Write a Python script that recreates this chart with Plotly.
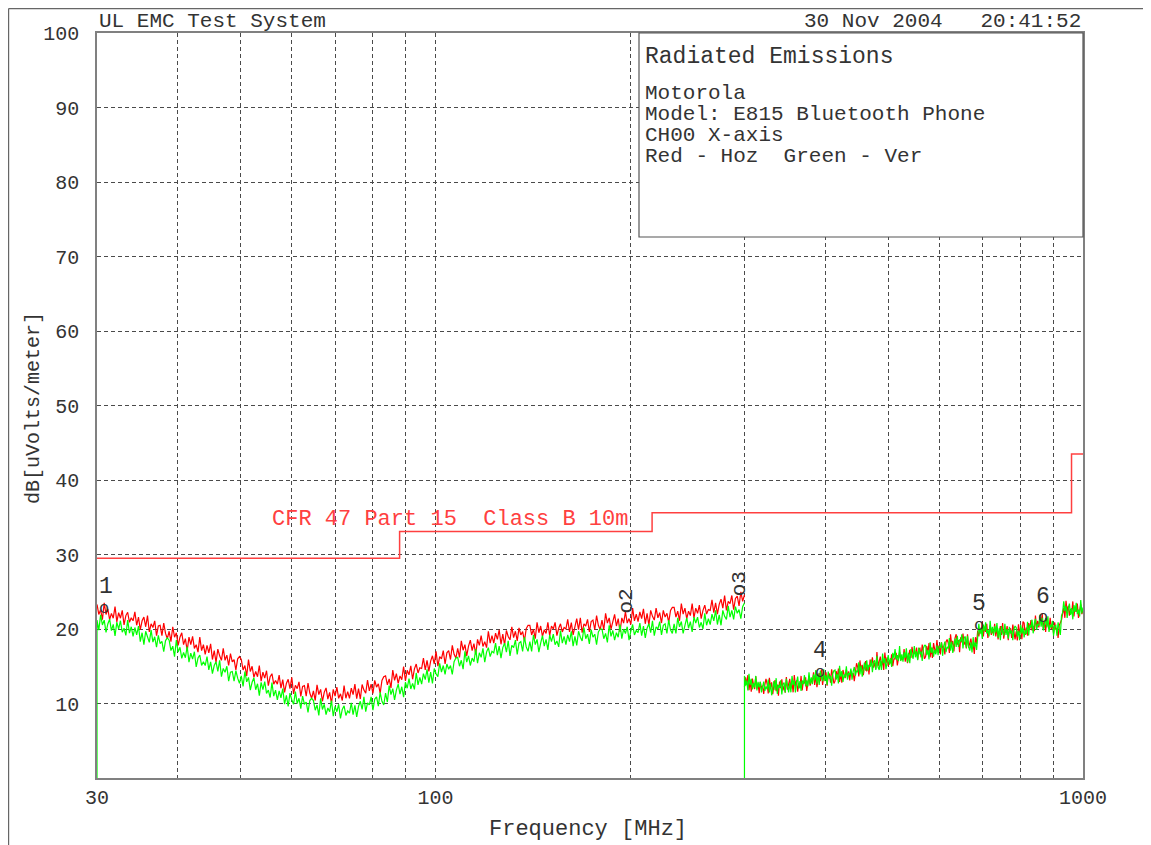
import numpy as np
import plotly.graph_objects as go

# ---------------- data ----------------
band1_start, band1_stop = 30, 300      # first sweep (MHz)
band2_start, band2_stop = 300, 1000    # second sweep (MHz)

red_band1 = [
    23.3, 21.95, 22.6, 21.25, 23.5, 21.95, 22.7, 21.25, 22.1, 21.45, 23.0, 20.95, 22.2, 21.45, 22.5, 20.55, 21.8, 22.25, 20.9, 21.5,
    21.1, 22.3, 20.5, 21.6, 19.9, 21.1, 21.6, 20.3, 21.8, 19.6, 20.7, 20.2, 21.1, 19.1, 20.4, 20.5, 19.1, 20.8, 19.4, 18.7,
    19.7, 18.3, 20.3, 18.9, 19.5, 17.8, 18.9, 19.5, 17.9, 18.7, 17.1, 18.9, 17.9, 19.0, 17.4, 17.9, 16.9, 18.9, 17.1, 17.9,
    16.6, 17.8, 16.8, 18.0, 15.9, 17.1, 15.5, 17.3, 16.4, 15.8, 17.4, 15.8, 16.5, 15.1, 16.7, 15.6, 15.9, 14.5, 16.0, 16.3,
    15.9, 14.5, 15.1, 13.7, 15.9, 14.3, 15.0, 13.5, 14.3, 13.6, 15.1, 13.0, 14.2, 13.4, 14.4, 12.4, 13.6, 14.0, 12.6, 13.1,
    12.6, 13.8, 12.05, 13.2, 11.5, 12.7, 13.25, 12.0, 13.5, 11.3, 12.45, 12.0, 12.9, 10.95, 12.3, 12.4, 11.0, 12.75, 11.4, 10.7,
    11.7, 10.4, 12.5, 11.2, 11.9, 10.3, 11.5, 12.1, 10.6, 11.5, 10.0, 11.9, 11.0, 12.2, 10.7, 11.3, 10.4, 12.4, 10.7, 11.6,
    10.7, 12.05, 11.2, 12.6, 10.65, 12.0, 10.6, 12.55, 11.8, 11.4, 13.15, 11.7, 12.6, 11.35, 13.1, 12.2, 12.65, 11.4, 13.1, 13.6,
    13.7, 12.5, 13.3, 12.1, 14.5, 13.1, 14.0, 12.7, 13.7, 13.2, 14.95, 13.05, 14.45, 13.85, 15.05, 13.25, 14.65, 15.3, 14.1, 14.8,
    14.7, 16.1, 14.5, 15.8, 14.3, 15.7, 16.4, 15.3, 17.0, 15.0, 16.3, 16.0, 17.1, 15.3, 16.8, 17.1, 15.9, 17.8, 16.6, 16.1,
    17.4, 16.2, 18.4, 17.15, 17.9, 16.4, 17.7, 18.5, 17.1, 18.05, 16.6, 18.6, 17.8, 19.1, 17.65, 18.3, 17.5, 19.7, 18.1, 19.1,
    18.1, 19.45, 18.6, 19.9, 17.95, 19.3, 17.85, 19.8, 19.0, 18.55, 20.3, 18.85, 19.7, 18.4, 20.15, 19.2, 19.65, 18.4, 20.05, 20.5,
    20.5, 19.2, 19.96, 18.7, 20.9, 19.5, 20.4, 19.0, 19.9, 19.4, 20.9, 19.1, 20.4, 20.0, 20.9, 19.1, 20.1, 20.7, 19.6, 20.2,
    20.0, 21.3, 19.6, 20.86, 19.2, 20.4, 21.4, 19.9, 21.5, 19.5, 20.7, 20.4, 21.3, 19.6, 21.0, 21.2, 19.9, 21.8, 20.5, 19.9,
    21.2, 19.9, 22.1, 20.8, 21.5, 19.98, 21.0, 21.96, 20.4, 21.4, 19.6, 21.5, 20.8, 22.3, 20.8, 21.4, 20.6, 22.8, 21.1, 22.0,
    21.0, 22.3, 21.4, 22.7, 20.7, 22.1, 20.5, 22.5, 21.7, 21.2, 22.8, 21.5, 22.2, 20.8, 22.5, 21.6, 22.1, 20.9, 22.5, 22.9,
    22.9, 21.6, 22.4, 21.1, 23.4, 22.0, 22.8, 21.4, 22.4, 21.8, 23.4, 21.5, 22.8, 22.1, 23.2, 21.4, 22.5, 23.2, 22.0, 22.6,
    22.5, 23.9, 22.2, 23.5, 22.0, 23.3, 24.0, 22.8, 24.5, 22.5, 23.7, 23.4, 24.5, 22.6, 24.1, 24.4, 23.1, 25.0, 23.7, 24.6,
]

green_band1 = [
    21.2, 19.85, 21.9, 20.54, 21.19, 19.54, 20.68, 21.33, 19.78, 20.63, 19.07, 20.92, 19.97, 21.11, 19.56, 20.1, 19.15, 21.2, 19.45, 20.3,
    19.0, 20.2, 19.2, 20.4, 18.3, 19.5, 17.9, 19.7, 18.8, 18.2, 19.85, 18.25, 18.95, 17.55, 19.15, 18.05, 18.35, 16.95, 18.45, 18.8,
    18.5, 17.1, 17.7, 16.3, 18.5, 16.9, 17.55, 16.05, 16.85, 16.15, 17.65, 15.55, 16.75, 15.95, 16.95, 14.9, 16.1, 16.5, 15.1, 15.6,
    15.1, 16.3, 14.5, 15.6, 14.0, 15.1, 15.6, 14.3, 15.8, 13.6, 14.7, 14.2, 15.0, 13.0, 14.2, 14.3, 13.0, 14.4, 13.4, 12.7,
    13.7, 12.3, 14.3, 12.9, 13.5, 11.8, 12.85, 13.45, 11.85, 12.65, 11.05, 12.85, 11.85, 12.95, 11.35, 11.8, 10.8, 12.8, 11.0, 11.8,
    10.5, 11.7, 10.75, 12.0, 9.9, 11.1, 9.6, 11.4, 10.5, 9.9, 11.6, 10.0, 10.7, 9.3, 11.0, 9.9, 10.2, 8.8, 10.4, 10.7,
    10.4, 9.1, 9.8, 8.4, 10.7, 9.2, 9.9, 8.5, 9.4, 8.9, 10.4, 8.3, 9.6, 8.9, 9.9, 8.0, 9.2, 9.7, 8.4, 9.0,
    8.7, 10.1, 8.5, 9.75, 8.2, 9.6, 10.3, 9.2, 10.9, 8.9, 10.1, 9.8, 10.9, 9.1, 10.6, 10.9, 9.65, 11.5, 10.3, 9.8,
    11.4, 10.2, 12.4, 11.2, 12.0, 10.5, 11.8, 12.6, 11.25, 12.25, 10.85, 12.85, 12.05, 13.35, 11.95, 12.7, 11.9, 14.1, 12.5, 13.5,
    12.6, 14.0, 13.2, 14.6, 12.8, 14.2, 12.7, 14.7, 14.0, 13.6, 15.4, 14.2, 15.1, 13.9, 15.3, 14.6, 15.1, 13.9, 15.6, 16.1,
    16.2, 15.0, 15.8, 14.6, 17.0, 15.55, 16.4, 15.1, 16.1, 15.6, 17.3, 15.4, 16.8, 16.2, 17.4, 15.55, 16.9, 17.5, 16.3, 17.0,
    16.8, 18.1, 16.5, 17.7, 16.1, 17.5, 18.1, 16.9, 18.4, 16.4, 17.8, 17.5, 18.5, 16.6, 18.1, 18.3, 17.0, 18.9, 17.6, 17.0,
    18.3, 17.0, 19.2, 17.9, 18.6, 16.9, 18.1, 19.1, 17.7, 18.6, 17.2, 19.2, 18.3, 19.3, 17.9, 18.4, 17.6, 19.8, 18.1, 19.0,
    17.9, 19.2, 18.3, 19.7, 17.7, 19.0, 17.8, 19.7, 18.9, 18.4, 20.2, 18.7, 19.3, 18.0, 19.9, 18.9, 19.3, 17.9, 19.6, 20.0,
    20.0, 18.7, 19.4, 18.2, 20.5, 19.0, 19.8, 18.5, 19.5, 18.9, 20.6, 18.7, 20.0, 19.4, 20.3, 18.5, 19.7, 20.6, 19.2, 19.8,
    19.5, 20.8, 19.1, 20.4, 18.8, 20.1, 20.7, 19.5, 21.1, 19.1, 20.3, 20.0, 21.0, 19.2, 20.5, 20.7, 19.4, 21.2, 19.9, 19.4,
    20.7, 19.4, 21.5, 20.3, 21.0, 19.4, 20.5, 21.5, 20.1, 21.0, 19.6, 21.6, 20.8, 21.6, 20.2, 20.9, 20.0, 22.1, 20.5, 21.4,
    20.6, 22.0, 21.1, 22.5, 20.6, 21.9, 20.5, 22.5, 21.7, 21.3, 23.1, 21.6, 22.5, 21.3, 23.0, 22.1, 22.6, 21.4, 23.0, 23.5,
]

red_band2 = [
    12.2, 13.5, 12.55, 13.8, 11.8, 13.0, 11.6, 13.35, 12.5, 11.95, 13.65, 12.0, 12.7, 11.4, 12.9, 12.0, 12.4, 11.3, 12.5, 13.3,
    12.65, 11.35, 13.45, 12.15, 12.85, 11.25, 12.45, 13.15, 11.65, 12.55, 11.05, 12.95, 12.05, 13.25, 11.75, 12.35, 11.45, 13.55, 11.85, 12.75,
    13.3, 12.0, 12.76, 11.5, 13.82, 12.35, 13.1, 11.6, 12.65, 12.1, 13.7, 11.75, 13.0, 12.7, 13.5, 11.7, 13.1, 13.7, 12.4, 13.0,
    12.9, 14.2, 12.5, 13.8, 12.2, 13.5, 14.1, 13.0, 14.6, 12.5, 13.7, 13.3, 14.2, 12.4, 13.8, 14.0, 12.8, 14.6, 13.3, 12.7,
    13.0, 14.34, 13.48, 14.7, 12.9, 14.0, 12.8, 14.5, 13.9, 13.4, 14.6, 13.5, 14.3, 13.1, 14.4, 13.7, 14.1, 13.0, 14.2, 15.4,
    14.9, 13.64, 15.78, 14.5, 15.2, 13.8, 15.0, 15.7, 14.3, 15.2, 13.9, 15.9, 15.1, 16.2, 14.8, 15.5, 14.6, 16.9, 15.0, 15.8,
    16.3, 15.04, 15.8, 14.5, 16.85, 15.4, 16.2, 15.0, 15.8, 15.4, 16.6, 15.0, 16.0, 16.0, 16.8, 15.1, 16.2, 16.9, 15.8, 16.1,
    15.9, 17.3, 15.6, 16.9, 15.4, 16.7, 17.2, 16.1, 17.6, 16.5, 16.9, 16.6, 17.5, 15.9, 17.3, 17.4, 16.2, 17.9, 16.6, 16.0,
    16.3, 17.7, 16.8, 18.1, 16.2, 17.5, 16.1, 18.1, 17.3, 16.8, 18.5, 17.0, 17.8, 16.6, 18.2, 17.4, 17.7, 16.6, 18.3, 18.6,
    18.1, 16.8, 19.3, 17.9, 18.4, 17.0, 18.8, 19.3, 17.9, 18.5, 16.9, 18.9, 18.2, 19.4, 17.9, 18.3, 17.4, 19.3, 17.5, 18.4,
    18.7, 17.35, 18.0, 16.65, 18.9, 18.0, 19.8, 19.0, 20.0, 19.4, 21.0, 19.0, 20.3, 19.6, 20.7, 18.8, 20.0, 20.5, 19.2, 19.8,
    19.4, 20.7, 19.0, 20.2, 18.6, 19.8, 20.4, 19.2, 20.8, 18.7, 19.8, 19.5, 20.4, 18.5, 19.9, 20.1, 18.8, 20.6, 19.2, 18.6,
    19.7, 18.47, 20.64, 19.5, 20.2, 18.64, 21.0, 20.8, 19.2, 20.2, 19.1, 20.8, 20.0, 21.2, 19.8, 20.4, 19.7, 21.8, 20.1, 21.1,
    20.2, 21.6, 20.8, 22.0, 20.0, 21.1, 19.6, 21.4, 20.5, 20.0, 21.5, 20.0, 20.7, 19.4, 20.9, 19.9, 20.1, 18.8, 20.5, 21.0,
    21.2, 22.1, 22.8, 21.5, 23.8, 22.3, 23.1, 21.8, 22.7, 22.1, 23.7, 21.7, 23.0, 22.3, 23.4, 21.5, 22.8, 23.3, 22.0, 22.6,
]

green_band2 = [
    13.7, 12.4, 13.1, 11.75, 14.0, 12.5, 13.3, 11.9, 12.75, 12.15, 13.7, 11.75, 12.9, 12.15, 12.9, 11.5, 12.45, 12.95, 11.7, 12.3,
    11.9, 13.2, 11.5, 12.7, 11.1, 12.4, 13.0, 11.8, 13.4, 11.3, 12.5, 12.1, 13.1, 11.2, 12.6, 12.8, 11.5, 13.3, 12.1, 11.5,
    12.8, 11.5, 13.7, 12.5, 13.1, 11.5, 12.8, 13.6, 12.0, 13.0, 11.7, 13.1, 12.6, 13.8, 12.3, 13.1, 12.3, 14.2, 12.6, 13.5,
    12.6, 13.9, 13.1, 14.5, 12.6, 14.0, 12.5, 14.4, 13.5, 13.0, 14.6, 13.0, 13.8, 12.5, 14.3, 13.3, 13.7, 12.4, 14.0, 14.4,
    14.5, 13.2, 13.98, 12.7, 15.07, 13.6, 14.35, 12.9, 13.9, 13.5, 15.0, 13.2, 14.1, 13.85, 14.7, 13.2, 14.3, 14.9, 13.75, 14.4,
    14.2, 15.54, 13.9, 15.1, 13.6, 14.9, 15.5, 14.4, 15.8, 14.4, 15.2, 14.9, 15.9, 14.2, 15.6, 15.8, 14.5, 16.4, 14.9, 14.5,
    15.8, 14.5, 16.7, 15.4, 16.1, 14.6, 15.8, 16.5, 15.2, 16.1, 14.9, 16.8, 16.1, 17.3, 15.9, 16.5, 15.7, 17.7, 15.7, 16.6,
    15.6, 16.9, 16.1, 17.4, 15.5, 16.8, 15.4, 17.3, 16.5, 16.0, 17.7, 16.2, 17.0, 15.8, 17.5, 16.6, 17.0, 15.7, 17.4, 17.8,
    17.8, 16.5, 17.2, 15.9, 18.2, 16.8, 17.5, 16.3, 17.2, 16.6, 17.8, 16.5, 17.7, 17.5, 18.2, 16.4, 17.7, 18.3, 16.9, 17.6,
    17.4, 18.8, 17.1, 18.3, 16.8, 18.1, 18.7, 17.6, 19.1, 17.6, 18.6, 18.3, 19.3, 17.4, 18.8, 19.0, 17.5, 19.1, 17.6, 17.1,
    18.2, 16.85, 18.9, 17.55, 18.2, 17.2, 19.4, 20.7, 19.3, 20.2, 18.7, 20.6, 19.7, 20.9, 19.4, 19.9, 19.0, 21.1, 19.4, 20.3,
    19.1, 20.4, 19.5, 20.8, 18.8, 20.1, 18.5, 20.4, 19.6, 19.1, 20.7, 19.2, 20.0, 18.7, 20.3, 19.4, 19.8, 18.5, 20.0, 20.4,
    20.2, 18.97, 19.74, 18.5, 20.57, 19.37, 20.2, 18.88, 19.84, 19.31, 20.98, 19.15, 20.52, 20.18, 21.25, 19.42, 20.79, 21.36, 19.92, 20.6,
    20.5, 21.9, 20.3, 21.5, 19.8, 21.0, 21.5, 20.2, 21.7, 19.6, 20.6, 20.2, 21.1, 19.1, 20.4, 20.5, 19.1, 20.9, 19.7, 19.2,
    21.8, 22.2, 23.7, 22.4, 23.1, 21.5, 22.7, 23.4, 21.9, 22.8, 21.3, 23.2, 22.3, 23.5, 22.0, 22.6, 21.7, 23.9, 22.1, 22.9,
]
green_floor_level = 0.0   # the green trace rises from the bottom at each sweep start

limit_freq = [30, 88, 216, 960, 1000]
limit_level = [29.5, 33.1, 35.6, 43.5, 43.5]
limit_label = "CFR 47 Part 15\u00a0\u00a0Class B 10m"

marker_labels = ["1", "2", "3", "4", "5", "6"]
marker_freq = [30, 197, 295, 392, 692, 866]
marker_level = [22.8, 22.7, 25.1, 14.2, 20.5, 21.5]
marker_rotated = [False, True, True, False, False, False]

x_tick_vals = [30, 40, 50, 60, 70, 80, 90, 100, 200, 300, 400, 500, 600, 700, 800, 900, 1000]
x_tick_text = ["30", "", "", "", "", "", "", "100", "", "", "", "", "", "", "", "", "1000"]
y_tick_vals = [10, 20, 30, 40, 50, 60, 70, 80, 90, 100]

header_left = "UL EMC Test System"
header_right = "30 Nov 2004\u00a0\u00a0\u00a020:41:52"
box_title = "Radiated Emissions"
box_lines = ["Motorola", "Model: E815 Bluetooth Phone", "CH00 X-axis",
             "Red - Hoz\u00a0\u00a0Green - Ver"]
x_title = "Frequency [MHz]"
y_title = "dB[uVolts/meter]"

# ---------------- figure ----------------
FONT = "Liberation Mono, DejaVu Sans Mono, monospace"
TXT = "#333333"
RED = "#ff0000"
GREEN = "#00ff00"
LIMIT = "#ff4040"
GRID = "#4a4a4a"

freq1 = np.geomspace(band1_start, band1_stop, len(red_band1))
freq2 = np.geomspace(band2_start, band2_stop, len(red_band2))

fig = go.Figure()
fig.add_trace(go.Scatter(x=freq1, y=red_band1, mode="lines",
                         line=dict(color=RED, width=1.2), hoverinfo="skip"))
fig.add_trace(go.Scatter(x=[band1_start] + list(freq1), y=[green_floor_level] + green_band1,
                         mode="lines", line=dict(color=GREEN, width=1.2), hoverinfo="skip"))
fig.add_trace(go.Scatter(x=freq2, y=red_band2, mode="lines",
                         line=dict(color=RED, width=1.2), hoverinfo="skip"))
fig.add_trace(go.Scatter(x=[band2_start] + list(freq2), y=[green_floor_level] + green_band2,
                         mode="lines", line=dict(color=GREEN, width=1.2), hoverinfo="skip"))
fig.add_trace(go.Scatter(x=limit_freq, y=limit_level, mode="lines", line_shape="hv",
                         line=dict(color=LIMIT, width=1.5), hoverinfo="skip"))

# page has an 8px body margin; plot area spans screen x 97..1083, y 33..778
W, H = 1143, 837
L, T = 89, 25
R = W - (1083 - 8)
B = H - (778 - 8)
pw, ph = 986, 745


def px_x(sx):
    return (sx - 97) / pw


def px_y(sy):
    return (778 - sy) / ph


annotations = []
for lab, f, lev, rot in zip(marker_labels, marker_freq, marker_level, marker_rotated):
    xv = np.log10(f)
    if rot:
        annotations.append(dict(x=xv, y=lev, xref="x", yref="y", text="o" + lab,
                                textangle=-90, showarrow=False, xanchor="center",
                                yanchor="bottom", yshift=-7,
                                font=dict(family=FONT, size=21, color=TXT)))
    else:
        anchor = "left" if lab == "1" else "center"
        annotations.append(dict(x=xv, y=lev, xref="x", yref="y", text="o",
                                showarrow=False, xanchor=anchor, yanchor="middle",
                                font=dict(family=FONT, size=17, color=TXT)))
        annotations.append(dict(x=xv, y=lev, xref="x", yref="y", text=lab,
                                showarrow=False, xanchor=anchor, yanchor="bottom",
                                yshift=6, font=dict(family=FONT, size=23, color=TXT)))

annotations.append(dict(x=px_x(270), y=px_y(519), xref="paper", yref="paper",
                        text=limit_label, showarrow=False, xanchor="left", yanchor="middle",
                        font=dict(family=FONT, size=22, color=LIMIT)))
annotations.append(dict(x=0, y=px_y(21), xref="paper", yref="paper", text=header_left,
                        showarrow=False, xanchor="left", yanchor="middle",
                        font=dict(family=FONT, size=21, color=TXT)))
annotations.append(dict(x=1, y=px_y(21), xref="paper", yref="paper", text=header_right,
                        showarrow=False, xanchor="right", yanchor="middle",
                        font=dict(family=FONT, size=21, color=TXT)))
annotations.append(dict(x=px_x(643), y=px_y(57), xref="paper", yref="paper", text=box_title,
                        showarrow=False, xanchor="left", yanchor="middle",
                        font=dict(family=FONT, size=23, color=TXT)))
for i, line in enumerate(box_lines):
    annotations.append(dict(x=px_x(643), y=px_y(94 + 20.7 * i), xref="paper", yref="paper",
                            text=line, showarrow=False, xanchor="left", yanchor="middle",
                            font=dict(family=FONT, size=21, color=TXT)))
annotations.append(dict(x=px_x(588), y=px_y(829), xref="paper", yref="paper", text=x_title,
                        showarrow=False, xanchor="center", yanchor="middle",
                        font=dict(family=FONT, size=22, color=TXT)))
annotations.append(dict(x=px_x(33), y=px_y(408), xref="paper", yref="paper", text=y_title,
                        textangle=-90, showarrow=False, xanchor="center", yanchor="middle",
                        font=dict(family=FONT, size=20, color=TXT)))

shapes = [
    dict(type="rect", xref="paper", yref="paper", x0=px_x(639), x1=1, y0=px_y(237), y1=1,
         line=dict(color="#555555", width=1.2), fillcolor="white", layer="above"),
    dict(type="line", xref="paper", yref="paper", x0=px_x(8.6), x1=px_x(1151), y0=px_y(8.6),
         y1=px_y(8.6), line=dict(color="#666666", width=1.2)),
    dict(type="line", xref="paper", yref="paper", x0=px_x(8.6), x1=px_x(8.6), y0=px_y(8.6),
         y1=px_y(845), line=dict(color="#666666", width=1.2)),
]

fig.update_layout(
    width=W, height=H,
    margin=dict(l=L, r=R, t=T, b=B),
    paper_bgcolor="white", plot_bgcolor="white",
    showlegend=False,
    font=dict(family=FONT, color=TXT),
    annotations=annotations,
    shapes=shapes,
)
fig.update_xaxes(type="log", range=[np.log10(30), np.log10(1000)],
                 tickvals=x_tick_vals, ticktext=x_tick_text, ticks="",
                 tickfont=dict(family=FONT, size=20, color=TXT), ticklabelstandoff=0,
                 showgrid=True, gridcolor=GRID, gridwidth=1, griddash="4px,3px",
                 showline=True, linecolor="#808080", linewidth=1.6, mirror=True,
                 zeroline=False)
fig.update_yaxes(range=[0, 100], tickvals=y_tick_vals, ticks="",
                 tickfont=dict(family=FONT, size=20, color=TXT), ticklabelstandoff=12,
                 showgrid=True, gridcolor=GRID, gridwidth=1, griddash="4px,3px",
                 showline=True, linecolor="#808080", linewidth=1.6, mirror=True,
                 zeroline=False)

fig.write_html("out.html")
